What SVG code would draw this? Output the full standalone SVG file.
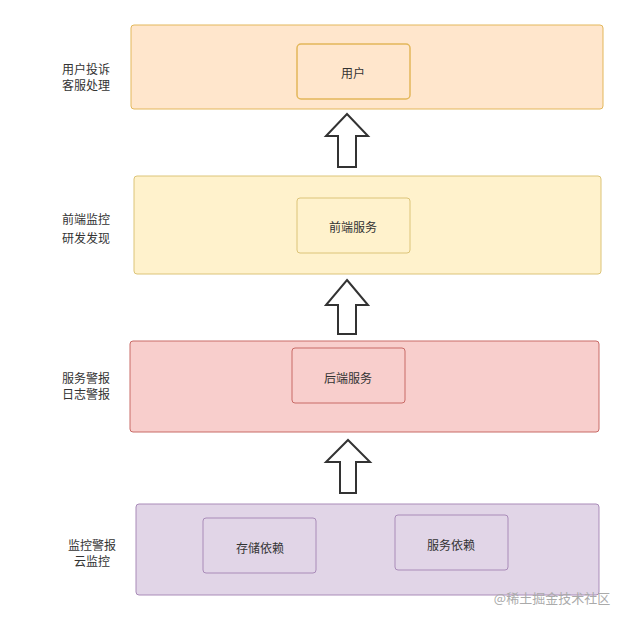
<svg xmlns="http://www.w3.org/2000/svg" width="628" height="621" viewBox="0 0 628 621">
<style>
text{font-family:"Noto Sans CJK SC","Noto Sans",sans-serif;font-size:12px;fill:#333;text-anchor:middle;dominant-baseline:central}
.arr{fill:#fff;stroke:#333;stroke-width:2}
</style>
<rect width="628" height="621" fill="#fff"/>
<g id="layer-user"><rect x="131" y="25" width="472" height="84" rx="3" fill="#ffe6cc" stroke="#e3b75a"/><text x="86" y="68">用户投诉</text><text x="86" y="86" dy="-2">客服处理</text></g>
<g id="node-user"><rect x="297" y="44" width="113" height="55" rx="4" fill="#ffe6cc" stroke="#e3b75a" stroke-width="1.5"/><text x="353" y="72">用户</text></g>
<g id="layer-front"><rect x="134" y="176" width="467" height="98" rx="3" fill="#fff2cc" stroke="#dcc478"/><text x="86" y="226" dy="-8">前端监控</text><text x="86" y="242" dy="-5">研发发现</text></g>
<g id="node-front"><rect x="297" y="198" width="113" height="55" rx="3" fill="#fff2cc" stroke="#dcc478"/><text x="353" y="226">前端服务</text></g>
<g id="layer-back"><rect x="130" y="341" width="469" height="91" rx="3" fill="#f8cecc" stroke="#c86a66"/><text x="86" y="377">服务警报</text><text x="86" y="393">日志警报</text></g>
<g id="node-back"><rect x="292" y="348" width="113" height="55" rx="3" fill="#f8cecc" stroke="#c86a66"/><text x="348" y="377">后端服务</text></g>
<g id="layer-mon"><rect x="136" y="504" width="463" height="91" rx="3" fill="#e1d5e7" stroke="#a98bb8"/><text x="92" y="544">监控警报</text><text x="92" y="560">云监控</text></g>
<g id="node-storage"><rect x="203" y="518" width="113" height="55" rx="3" fill="#e1d5e7" stroke="#a98bb8"/><text x="260" y="547">存储依赖</text></g>
<g id="node-service"><rect x="395" y="515" width="113" height="55" rx="3" fill="#e1d5e7" stroke="#a98bb8"/><text x="451" y="544">服务依赖</text></g>
<g id="connectors">
<polygon class="arr" points="347,114 368,136 356,136 356,167 338,167 338,136 326,136"/>
<polygon class="arr" points="347,280 368,305 356,305 356,334 338,334 338,305 326,305"/>
<polygon class="arr" points="348,440 370,462 356,462 356,493 340,493 340,462 326,462"/>
</g>
<text x="552" y="597" style="fill:#aaa;font-size:13px">@稀土掘金技术社区</text>
</svg>
